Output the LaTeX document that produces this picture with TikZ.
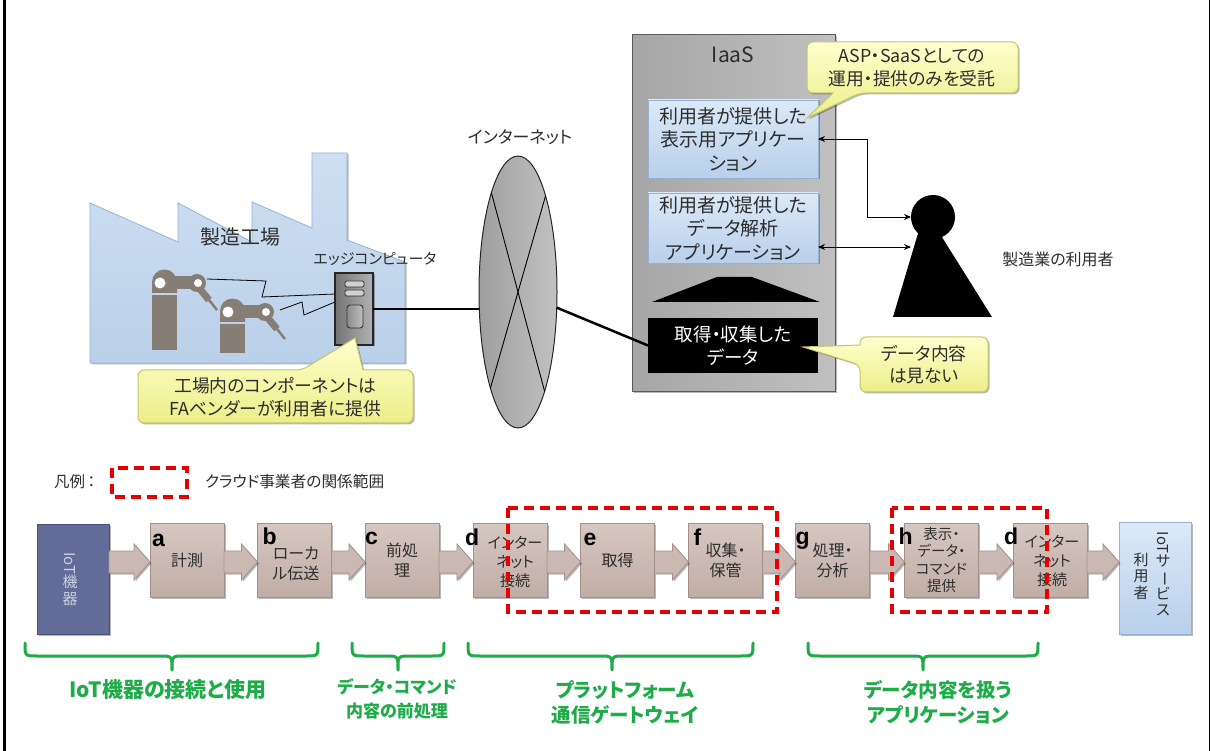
\documentclass[tikz,border=0pt]{standalone}
\usepackage{fontspec}
\setmainfont{Noto Sans CJK JP}[RawFeature={+palt}]
\newfontfamily\tagfont{Liberation Sans}
\usetikzlibrary{arrows.meta,shadows,calc,shapes.geometric}

\definecolor{factA}{RGB}{206,223,241}
\definecolor{factB}{RGB}{186,208,233}
\definecolor{factline}{RGB}{150,178,208}
\definecolor{robotgray}{RGB}{134,126,117}
\definecolor{calloutA}{RGB}{255,255,206}
\definecolor{calloutB}{RGB}{236,238,136}
\definecolor{calloutline}{RGB}{196,198,110}
\definecolor{iaasA}{RGB}{166,166,166}
\definecolor{iaasB}{RGB}{192,192,192}
\definecolor{appA}{RGB}{220,233,247}
\definecolor{appB}{RGB}{184,208,235}
\definecolor{appline}{RGB}{150,178,210}
\definecolor{procA}{RGB}{214,199,193}
\definecolor{procB}{RGB}{192,173,166}
\definecolor{procline}{RGB}{163,143,136}
\definecolor{arrowfill}{RGB}{202,185,179}
\definecolor{iotfill}{RGB}{99,107,152}
\definecolor{iotline}{RGB}{72,80,120}
\definecolor{iottext}{RGB}{205,208,228}
\definecolor{scopered}{RGB}{232,0,0}
\definecolor{bracegreen}{RGB}{30,172,72}
\definecolor{txtgray}{RGB}{45,45,45}

\tikzset{
  softshadow/.style={drop shadow={shadow xshift=1.5pt,shadow yshift=-1.5pt,opacity=0.28,fill=black}},
  proctext/.style={align=center,text=txtgray,font=\fontsize{16}{20}\selectfont},
  procbox/.style={rectangle,minimum width=74,minimum height=74,top color=procA,bottom color=procB,
    draw=procline,line width=0.8pt,softshadow,proctext},
  steptag/.style={anchor=base west,font=\tagfont\bfseries\fontsize{23}{23}\selectfont},
  appbox/.style={rectangle,minimum width=170,top color=appA,bottom color=appB,draw=appline,
    line width=0.8pt,softshadow,align=center,text=txtgray,font=\fontsize{19}{23.5}\selectfont},
  calloutshape/.style={top color=calloutA,bottom color=calloutB,draw=calloutline,line width=1pt,softshadow},
  callouttext/.style={align=center,text=txtgray,font=\fontsize{17.8}{22.5}\selectfont},
  scopebox/.style={draw=scopered,line width=3.5pt,dash pattern=on 10pt off 6pt},
  curlybrace/.style={draw=bracegreen,line width=3pt,line cap=round,line join=round},
  bracelabel/.style={text=bracegreen,align=center,font=\bfseries\fontsize{19.5}{25}\selectfont},
  heavylink/.style={line width=2.5pt},
  twoway/.style={line width=0.8pt,{Stealth[length=7pt,width=6pt]}-{Stealth[length=7pt,width=6pt]}},
  wire/.style={line width=0.8pt},
  arrowshape/.style={fill=arrowfill,draw=procline,line width=0.8pt,softshadow},
  vtext/.style={align=center,font=\fontsize{15}{16.5}\selectfont},
  plainlabel/.style={text=txtgray,font=\fontsize{17}{20}\selectfont},
}

% industrial robot: #1,#2 = shoulder pivot, #3 = bottom of the pedestal below the pivot
\newcommand\robotarm[3]{%
  \begin{scope}[shift={(#1,#2)}]
    \fill[robotgray] (-8,10) -- (-8,-1) arc[start angle=180,end angle=360,radius=12.5] -- (17,10) -- cycle;
    \fill[robotgray] (-8,12) rectangle (17,#3);
    \fill[robotgray] (10,-7) rectangle (37,6);
    \fill[robotgray] (37,0) circle[radius=9];
    \draw[robotgray,line width=7pt] (39,5) -- (49,17);
    \draw[robotgray,line width=2.5pt] (49,17) -- (57,27);
    \fill[white] (0,0) circle[radius=5.5];
    \fill[white] (38,0) circle[radius=4];
  \end{scope}}

% wide block arrow between two process boxes, on the row line
\newcommand\flowarrow[2]{%
  \path[arrowshape] let \p1=(#1.east), \p2=(#2.west), \p3=(row) in
    ({\x1},{\y3+11pt}) -- ({\x2-16pt},{\y3+11pt}) -- ({\x2-16pt},{\y3+18pt}) -- ({\x2},{\y3})
    -- ({\x2-16pt},{\y3-18pt}) -- ({\x2-16pt},{\y3-11pt}) -- ({\x1},{\y3-11pt}) -- cycle;}

% curly brace: left end, tip, right end
\newcommand\curly[3]{%
  \draw[curlybrace] (#1,643) .. controls (#1,656) .. (#1+12,656) -- (#2-12,656)
    .. controls (#2,656) .. (#2,670) .. controls (#2,656) .. (#2+12,656)
    -- (#3-12,656) .. controls (#3,656) .. (#3,643);}

\begin{document}
\begin{tikzpicture}[x=1pt,y=-1pt,every node/.style={inner sep=0pt,outer sep=0pt}]
\useasboundingbox (0,0) rectangle (1211,751);
\fill[white] (0,0) rectangle (1211,751);
\draw[line width=2.6pt] (4.5,0) -- (4.5,751);
\draw[line width=1.2pt] (1209.5,0) -- (1209.5,751);

% ---------- factory ----------
\path[top color=factA,bottom color=factB,draw=factline,line width=0.8pt,softshadow]
  (90,363) -- (90,203) -- (178,242) -- (178,203) -- (252,242) -- (252,202) -- (312,228)
  -- (312,153) -- (347,153) -- (347,240) -- (405,262) -- (405,363) -- cycle;
\node[text=txtgray,font=\fontsize{20}{22}\selectfont] (plant) at (240,237) {製造工場};
\node[text=txtgray,font=\fontsize{15}{18}\selectfont] (edgelabel) at (375,259) {エッジコンピュータ};

\robotarm{160}{283}{67}
\robotarm{228}{312}{41}

\node[rectangle,minimum width=38,minimum height=72,left color=black!55,right color=black!30,
  middle color=black!42,draw=black!85,line width=1.2pt,softshadow] (edge) at (354,309) {};
\draw[black!80,line width=0.9pt,fill=black!18,rounded corners=1.5pt] (345,281) rectangle (364,287);
\draw[black!80,line width=0.9pt,fill=black!18,rounded corners=1.5pt] (345,290) rectangle (364,296);
\draw[black!80,line width=0.9pt,left color=black!45,right color=black!25,rounded corners=3pt] (347,305) rectangle (363,328);

\draw[wire] (207,279) -- (266,281) -- (262,297) -- ([yshift=-21pt]edge.north west);
\draw[wire] (280,310) -- (302,302) -- (304,315) -- ([yshift=-29pt]edge.north west);

% ---------- internet ----------
\node[ellipse,minimum width=78,minimum height=272,left color=black!38,right color=black!24,
  draw=black!85,line width=1pt] (inet) at (518,292) {};
\draw[line width=0.9pt] (inet.105.5) -- (inet.285.5);
\draw[line width=0.9pt] (inet.74.5) -- (inet.254.5);
\node[plainlabel] (inetlabel) at (520,137) {インターネット};
\draw[heavylink] (edge.east) -- (edge.east -| inet.west);

% ---------- IaaS ----------
\node[rectangle,minimum width=203,minimum height=357,left color=iaasA,right color=iaasB,
  draw=black!65,line width=1pt,softshadow] (iaas) at (733.5,213.5) {};
\node[text=txtgray,font=\fontsize{21}{24}\selectfont] (iaaslabel) at (733,55) {IaaS};
\node[appbox,minimum height=78] (app1) at (733,139) {利用者が提供した\\表示用アプリケー\\ション};
\node[appbox,minimum height=70] (app2) at (733,228) {利用者が提供した\\データ解析\\アプリケーション};
\fill (652,302) -- (717,277) -- (752,277) -- (820,302) -- cycle;
\node[rectangle,fill=black,minimum width=170,minimum height=55,text=white,align=center,
  font=\fontsize{18.5}{23}\selectfont] (data) at (733,345.5) {取得・収集した\\データ};
\draw[heavylink] (inet.-22) -- (data.west);

% ---------- user ----------
\fill (925,210) -- (893,317) -- (992,317) -- cycle;
\node[circle,fill=black,minimum size=44] (head) at (933,217) {};
\coordinate (chest) at (911,247);
\node[text=txtgray,font=\fontsize{16}{18}\selectfont] (userlabel) at (1058,259) {製造業の利用者};
\draw[twoway] (app1.east) -- ++(49,0) |- (head.west);
\draw[twoway] (chest -| app2.east) -- (chest);

% ---------- callouts ----------
\path[calloutshape] (138,396) [rounded corners=6pt] -- (138,370) -- (302,370) [sharp corners]
  -- (355,338) -- (363,370) [rounded corners=6pt] -- (413,370) -- (413,423) -- (138,423) -- cycle;
\node[callouttext] (note1) at (275.5,397) {工場内のコンポーネントは\\FAベンダーが利用者に提供};

\path[calloutshape] (912,42) [rounded corners=6pt] -- (1018,42) -- (1018,93) -- (860,93) [sharp corners]
  -- (807,118) -- (833,93) [rounded corners=6pt] -- (807,93) -- (807,42) -- cycle;
\node[callouttext] (note2) at (912,68) {ASP・SaaSとしての\\運用・提供のみを受託};

\path[calloutshape] (924,337) [rounded corners=6pt] -- (988,337) -- (988,392) -- (860,392) -- (860,365)
  [sharp corners] -- (803,347) -- (860,345) [rounded corners=6pt] -- (860,337) -- cycle;
\node[callouttext] (note3) at (924,364.5) {データ内容\\は見ない};

% ---------- legend ----------
\node[anchor=west,text=txtgray,font=\fontsize{15.5}{17}\selectfont] (legendhead) at (54,482) {凡例\,：};
\draw[scopebox] (112,468) rectangle (187,497);
\node[anchor=west,text=txtgray,font=\fontsize{15.7}{17}\selectfont] (legendtext) at (205,482) {クラウド事業者の関係範囲};

% ---------- process chain ----------
\coordinate (row) at (0,562);
\node[rectangle,minimum width=72,minimum height=110,fill=iotfill,draw=iotline,line width=0.8pt,softshadow] (iot) at (73,579) {};
\node[vtext,text=iottext] (iotlabel) at (70,579) {\rotatebox[origin=c]{-90}{IoT}\\機\\器};

\node[procbox] (pa) at (187,560) {計測};
\node[procbox] (pb) at (294.5,560) {};
\node[proctext] (pbtext) at (296,564) {ローカ\\ル伝送};
\node[procbox] (pc) at (402,560) {前処\\理};
\node[procbox] (pd) at (510,560) {};
\node[proctext,font=\fontsize{15}{19}\selectfont] (pdtext) at (515,562) {インター\\ネット\\接続};
\node[procbox] (pe) at (617.5,560) {取得};
\node[procbox] (pf) at (725.5,560) {収集・\\保管};
\node[procbox] (pg) at (832.5,560) {処理・\\分析};
\node[procbox,font=\fontsize{14.5}{17.5}\selectfont] (ph) at (941.5,560) {表示・\\データ・\\コマンド\\提供};
\node[procbox] (pd2) at (1050,560) {};
\node[proctext,font=\fontsize{15}{19}\selectfont] (pd2text) at (1052,561) {インター\\ネット\\接続};

\node[rectangle,minimum width=72,minimum height=112,top color=appA,bottom color=appB,draw=appline,
  line width=0.8pt,softshadow] (usr) at (1155,578) {};
\node[vtext,text=txtgray] (usrA) at (1163,574) {\rotatebox[origin=c]{-90}{IoT}\\サ\\\rotatebox[origin=c]{-90}{ー}\\ビ\\ス};
\node[vtext,text=txtgray] (usrB) at (1141,576) {利\\用\\者};

\flowarrow{iot}{pa}
\flowarrow{pa}{pb}
\flowarrow{pb}{pc}
\flowarrow{pc}{pd}
\flowarrow{pd}{pe}
\flowarrow{pe}{pf}
\flowarrow{pf}{pg}
\flowarrow{pg}{ph}
\flowarrow{ph}{pd2}
\flowarrow{pd2}{usr}

\node[steptag] (ta) at ($(pa.north west)+(2,23)$) {a};
\node[steptag] (tb) at ($(pb.north west)+(5,21)$) {b};
\node[steptag] (tc) at ($(pc.north west)+(0,21)$) {c};
\node[steptag] (td) at ($(pd.north west)+(-8,22)$) {d};
\node[steptag] (te) at ($(pe.north west)+(3,22)$) {e};
\node[steptag] (tf) at ($(pf.north west)+(5,22)$) {f};
\node[steptag] (tg) at ($(pg.north west)+(0,21)$) {g};
\node[steptag] (th) at ($(ph.north west)+(-6,21)$) {h};
\node[steptag] (td2) at ($(pd2.north west)+(-9,21)$) {d};

\draw[scopebox] (508,508) rectangle (777,612);
\draw[scopebox] (892,508) rectangle (1047,612);

% ---------- scope braces ----------
\curly{25}{172}{318}
\curly{352}{398}{444}
\curly{468}{612}{753}
\curly{808}{923}{1038}
\node[bracelabel,font=\bfseries\fontsize{21}{25}\selectfont] (lab1) at (168,690) {IoT機器の接続と使用};
\node[bracelabel,font=\bfseries\fontsize{17}{24}\selectfont] (lab2) at (397,699) {データ・コマンド\\内容の前処理};
\node[bracelabel] (lab3) at (625,702) {プラットフォーム\\通信ゲートウェイ};
\node[bracelabel] (lab4) at (938,702) {データ内容を扱う\\アプリケーション};
\end{tikzpicture}
\end{document}
